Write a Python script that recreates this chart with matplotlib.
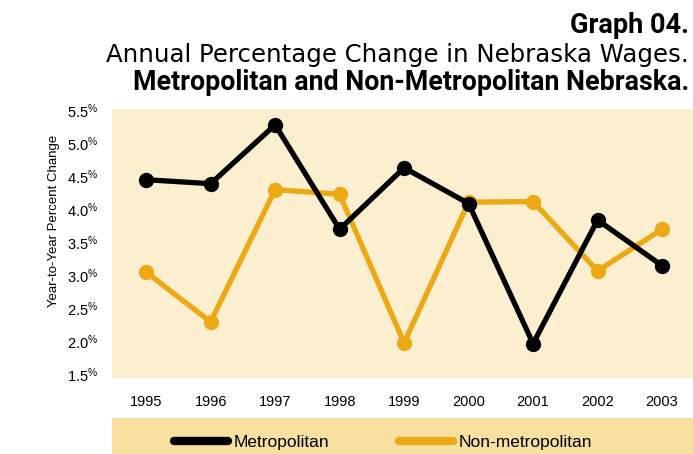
import matplotlib
matplotlib.use("Agg")
import matplotlib.pyplot as plt

years = [1995, 1996, 1997, 1998, 1999, 2000, 2001, 2002, 2003]
metro = [4.45, 4.39, 5.28, 3.70, 4.63, 4.09, 1.97, 3.84, 3.15]
non_metro = [3.05, 2.30, 4.30, 4.23, 1.98, 4.11, 4.12, 3.07, 3.70]
y_ticks = [1.5, 2.0, 2.5, 3.0, 3.5, 4.0, 4.5, 5.0, 5.5]

plt.rcParams["font.family"] = ["Liberation Sans", "DejaVu Sans"]
plt.rcParams["mathtext.fontset"] = "custom"
plt.rcParams["mathtext.rm"] = "Liberation Sans"
plt.rcParams["mathtext.it"] = "Liberation Sans"

BLACK = "#000000"
ORANGE = "#ECA913"
BG = "#FCEFCF"
BAND = "#F7E0A0"

fig = plt.figure(figsize=(6.93, 4.54), dpi=100)
W, H = 693, 454

ax = fig.add_axes([112 / W, (H - 378) / H, 581 / W, (378 - 109) / H])
ax.set_facecolor(BG)

ax.plot(years, metro, color=BLACK, lw=3.8, marker="o", ms=10,
        solid_joinstyle="round", label="Metropolitan", zorder=3)
ax.plot(years, non_metro, color=ORANGE, lw=3.8, marker="o", ms=10,
        solid_joinstyle="round", label="Non-metropolitan", zorder=2)

ax.set_xlim(1994.47, 2003.48)
ax.set_ylim(1.45, 5.52)
ax.set_xticks(years)
ax.set_xticklabels([str(y) for y in years], fontsize=10.5)
ax.set_yticks(y_ticks)
ax.set_yticklabels([f"{v:.1f}" + r"$^{\%}$" for v in y_ticks], fontsize=10.5)
ax.tick_params(axis="x", length=0, pad=12)
ax.tick_params(axis="y", length=0, pad=10)
for s in ax.spines.values():
    s.set_visible(False)
ax.set_ylabel("Year-to-Year Percent Change", fontsize=9.5)
ax.yaxis.set_label_coords(-0.09, 0.585)

# legend band
band = fig.add_axes([112 / W, 0, 581 / W, 36 / H])
band.set_facecolor(BAND)
band.set_xticks([])
band.set_yticks([])
for s in band.spines.values():
    s.set_visible(False)

handles, labels = ax.get_legend_handles_labels()
leg = band.legend(handles, labels, loc="center left", bbox_to_anchor=(0.08, 0.33),
                  ncol=2, frameon=False, fontsize=12.5, handlelength=3.1,
                  handletextpad=0.35, columnspacing=4.0)
for h in leg.legend_handles:
    h.set_marker("")
    h.set_linewidth(6)
    h.set_solid_capstyle("round")

# titles (baselines)
fig.text(689 / W, 1 - 33 / H, "Graph 04.", ha="right", va="baseline",
         fontsize=19.5, fontweight="bold", family="Roboto")
fig.text(689 / W, 1 - 62 / H, "Annual Percentage Change in Nebraska Wages.",
         ha="right", va="baseline", fontsize=17.6, family="DejaVu Sans")
fig.text(689 / W, 1 - 90 / H, "Metropolitan and Non-Metropolitan Nebraska.",
         ha="right", va="baseline", fontsize=19.3, fontweight="bold",
         family="Roboto")

fig.savefig("out.png", dpi=100)
